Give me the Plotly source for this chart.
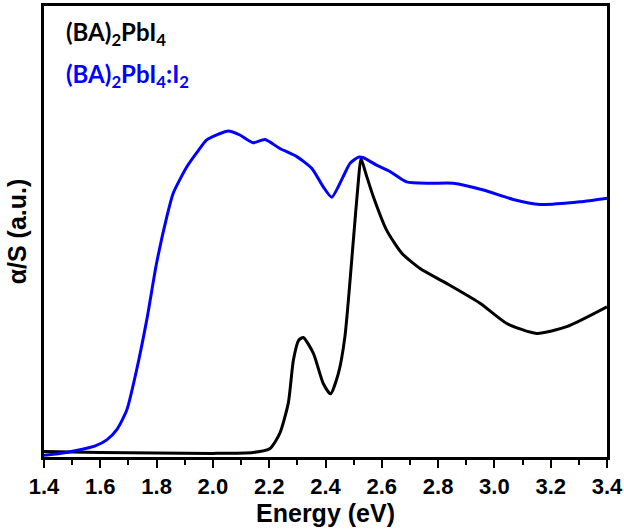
import plotly.graph_objects as go

# Photon energy (eV) and normalised alpha/S for each film
energy_pure = [1.40, 1.60, 1.80, 2.00, 2.143, 2.203, 2.238, 2.268, 2.286, 2.305,
               2.321, 2.357, 2.392, 2.418, 2.446, 2.469, 2.499, 2.517, 2.526, 2.545,
               2.57, 2.617, 2.671, 2.736, 2.83, 2.949, 3.044, 3.15, 3.257, 3.40]
absorb_pure = [0.012, 0.010, 0.009, 0.008, 0.010, 0.019, 0.053, 0.120, 0.215, 0.259,
               0.265, 0.230, 0.163, 0.140, 0.186, 0.267, 0.481, 0.614, 0.662, 0.625,
               0.577, 0.503, 0.452, 0.418, 0.385, 0.341, 0.296, 0.274, 0.289, 0.333]

energy_iodine = [1.40, 1.45, 1.528, 1.58, 1.623, 1.66, 1.694, 1.729, 1.765, 1.80,
                 1.836, 1.859, 1.907, 1.95, 1.978, 2.02, 2.055, 2.096, 2.143, 2.185,
                 2.238, 2.298, 2.351, 2.392, 2.422, 2.463, 2.487, 2.517, 2.533, 2.582,
                 2.629, 2.688, 2.771, 2.854, 2.961, 3.067, 3.162, 3.304, 3.40]
absorb_iodine = [0.004, 0.007, 0.016, 0.024, 0.038, 0.062, 0.104, 0.193, 0.304, 0.430,
                 0.532, 0.585, 0.643, 0.681, 0.703, 0.716, 0.723, 0.714, 0.697, 0.704,
                 0.684, 0.666, 0.640, 0.599, 0.576, 0.622, 0.651, 0.665, 0.664, 0.647,
                 0.633, 0.610, 0.607, 0.607, 0.592, 0.571, 0.560, 0.566, 0.574]

x_ticks = [1.4, 1.6, 1.8, 2.0, 2.2, 2.4, 2.6, 2.8, 3.0, 3.2, 3.4]

fig = go.Figure()
fig.add_trace(go.Scatter(x=energy_pure, y=absorb_pure, mode="lines",
                         line=dict(color="black", width=3, shape="spline", smoothing=0.6),
                         name="(BA)2PbI4"))
fig.add_trace(go.Scatter(x=energy_iodine, y=absorb_iodine, mode="lines",
                         line=dict(color="#0000FF", width=3, shape="spline", smoothing=0.6),
                         name="(BA)2PbI4:I2"))

sans = "Liberation Sans, Arial"

fig.update_layout(
    width=624, height=530,
    margin=dict(l=44, r=17, t=6, b=73),
    plot_bgcolor="white", paper_bgcolor="white",
    showlegend=False,
    xaxis=dict(
        range=[1.4, 3.4], tickvals=x_ticks, automargin=False,
        ticktext=[f"<b>{v:.1f}</b>" for v in x_ticks],
        showline=True, linecolor="black", linewidth=2.5, mirror=True,
        ticks="outside", ticklen=8, tickwidth=2, tickcolor="black",
        minor=dict(dtick=0.1, ticks="outside", ticklen=5, tickwidth=2, tickcolor="black"),
        showgrid=False, zeroline=False,
        tickfont=dict(family=sans, size=22, color="black"),
        title=dict(text="<b>Energy (eV)</b>", standoff=2,
                   font=dict(family=sans, size=25, color="black")),
    ),
    yaxis=dict(
        range=[0, 1], showticklabels=False, ticks="", automargin=False,
        showline=True, linecolor="black", linewidth=2.5, mirror=True,
        showgrid=False, zeroline=False,
        title=dict(text="<b>α/S (a.u.)</b>", standoff=8,
                   font=dict(family=sans, size=25, color="black")),
    ),
)

fig.add_annotation(xref="paper", yref="paper", x=0.036, y=0.940, xanchor="left", yanchor="middle",
                   text="<b>(BA)<sub>2</sub>PbI<sub>4</sub></b>", showarrow=False,
                   font=dict(family="Lato", size=24, color="black"))
fig.add_annotation(xref="paper", yref="paper", x=0.036, y=0.845, xanchor="left", yanchor="middle",
                   text="<b>(BA)<sub>2</sub>PbI<sub>4</sub>:I<sub>2</sub></b>", showarrow=False,
                   font=dict(family="Lato", size=24, color="#0000FF"))

fig.write_html("out.html")
